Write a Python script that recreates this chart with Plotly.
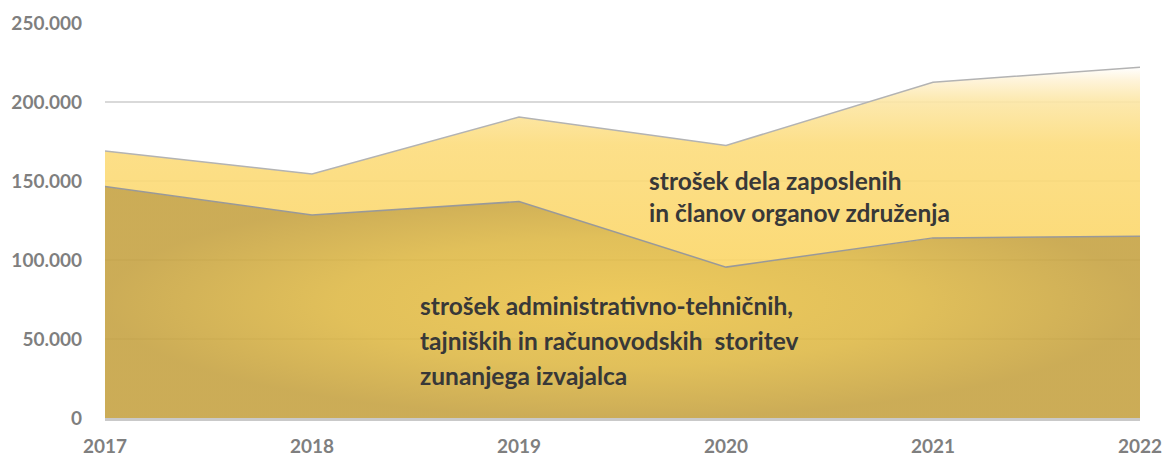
import plotly.graph_objects as go

years = [2017, 2018, 2019, 2020, 2021, 2022]
admin_costs = [146500, 128500, 137000, 95500, 114000, 115000]
staff_costs = [22500, 25900, 53500, 77000, 98500, 107000]
y_ticks = [0, 50000, 100000, 150000, 200000, 250000]
y_tick_labels = ["0", "50.000", "100.000", "150.000", "200.000", "250.000"]

total = [a + s for a, s in zip(admin_costs, staff_costs)]

fig = go.Figure()
fig.add_trace(go.Scatter(
    x=years, y=admin_costs, mode="lines",
    line=dict(color="#999999", width=1.5),
    fill="tozeroy",
    fillgradient=dict(
        type="radial",
        colorscale=[[0, "rgba(236,196,74,0.9)"], [0.55, "rgba(222,185,72,0.9)"], [1, "rgba(198,163,68,0.9)"]],
    ),
    hoverinfo="skip", showlegend=False,
))
fig.add_trace(go.Scatter(
    x=years, y=total, mode="lines",
    line=dict(color="#B3B3B3", width=1.5),
    fill="tonexty",
    fillgradient=dict(
        type="vertical", start=100000, stop=222000,
        colorscale=[[0, "rgba(251,214,104,0.9)"], [0.6, "rgba(252,220,124,0.9)"],
                    [0.82, "rgba(252,230,164,0.9)"], [0.93, "rgba(254,243,215,0.95)"],
                    [1, "rgba(255,255,255,1)"]],
    ),
    hoverinfo="skip", showlegend=False,
))

font_ann = dict(family="Lato, 'Open Sans', sans-serif", size=24.5, color="#383838")
lines1 = ["strošek dela zaposlenih", "in članov organov združenja"]
for i, t in enumerate(lines1):
    fig.add_annotation(x=2019.62, y=150500 - i * 20200, text="<b>" + t + "</b>",
                       xref="x", yref="y", showarrow=False, xanchor="left",
                       yanchor="middle", font=font_ann)
lines2 = ["strošek administrativno-tehničnih,", "tajniških in računovodskih  storitev",
          "zunanjega izvajalca"]
for i, t in enumerate(lines2):
    fig.add_annotation(x=2018.51, y=71500 - i * 22150, text="<b>" + t + "</b>",
                       xref="x", yref="y", showarrow=False, xanchor="left",
                       yanchor="middle", font=font_ann)

tick_font = dict(family="Lato, 'Open Sans', sans-serif", size=19, color="#7F7F7F", weight="bold")
fig.update_layout(
    width=1164, height=457,
    margin=dict(l=105, r=24, t=23, b=39, autoexpand=False),
    paper_bgcolor="white", plot_bgcolor="white",
    separators=",.",
    xaxis=dict(range=[2017, 2022], tickvals=years, ticktext=[str(y) for y in years],
               showgrid=False, zeroline=False, showline=True, linecolor="#C9C9C9",
               linewidth=3, automargin=False,
               tickfont=tick_font, ticks="", ticklabelstandoff=9),
    yaxis=dict(range=[0, 250000], tickvals=y_ticks, ticktext=y_tick_labels,
               showgrid=True, gridcolor="#D9D9D9", gridwidth=1.5, zeroline=False,
               showline=False, automargin=False, tickfont=tick_font, ticks="",
               ticklabelstandoff=22),
)

fig.write_html(
    "out.html",
    config={"displayModeBar": False},
    post_script="document.body.style.margin='0';document.body.style.overflow='hidden';"
                "document.documentElement.style.overflow='hidden';",
)
